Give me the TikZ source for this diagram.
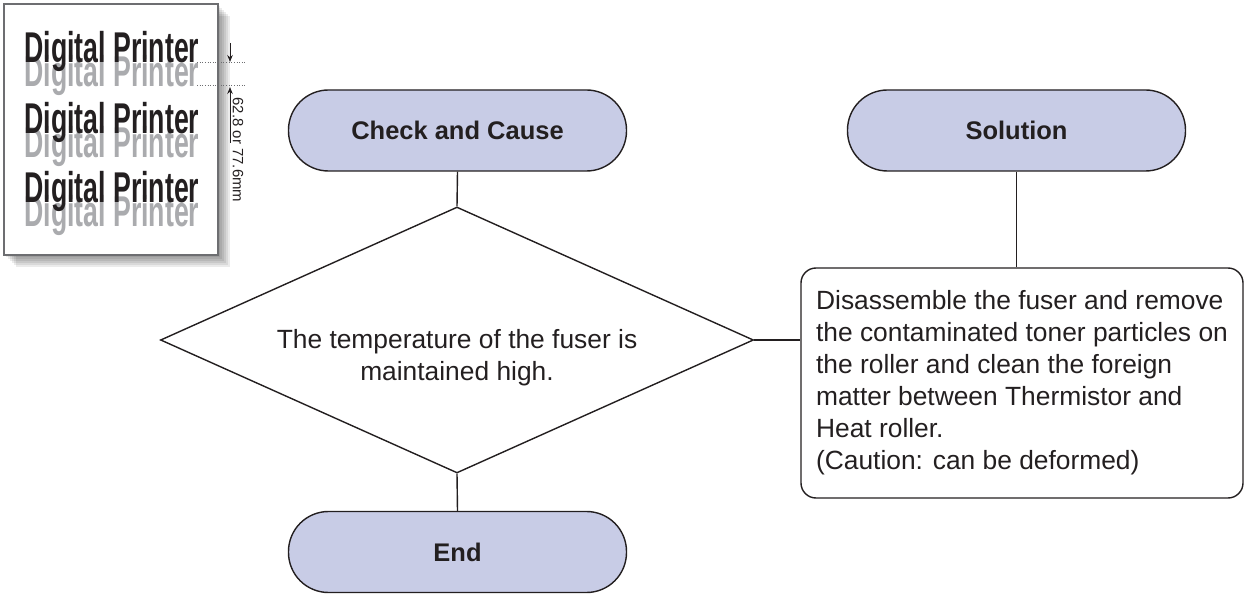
\documentclass[tikz,border=0pt]{standalone}
\usepackage{fontspec}
\setmainfont{Liberation Sans}
\newfontfamily\condfont[FakeStretch=0.62]{Liberation Sans Bold}
\usepackage{tikz}
\usetikzlibrary{arrows.meta,positioning,shapes.geometric,calc}
\definecolor{Ink}{HTML}{231F20}
\definecolor{Lilac}{HTML}{C8CCE6}
\definecolor{Ghost}{HTML}{AAABAE}
\definecolor{Edge}{HTML}{6D6E71}
\tikzset{
  every node/.append style={text=Ink},
  term/.style={draw=Ink, line width=0.8pt, rounded corners=8mm, fill=Lilac,
               minimum width=67.6mm, minimum height=16.2mm,
               font=\fontsize{14.5}{17}\selectfont\bfseries},
  decision/.style={diamond, draw=Ink, line width=0.8pt, inner sep=0pt,
                   minimum width=118.6mm, minimum height=53.2mm},
  note/.style={draw=Ink, line width=0.8pt, rounded corners=3mm, align=left,
               minimum width=88.4mm, minimum height=46mm,
               font=\fontsize{15}{18.2}\selectfont},
  body/.style={align=center, font=\fontsize{15}{18.2}\selectfont},
  link/.style={line width=0.8pt, draw=Ink},
  sample/.style={anchor=base west, inner sep=0pt, font=\condfont\fontsize{24.5}{24}\selectfont},
  dimarrow/.style={-{Stealth[length=1.4mm,width=1.1mm]}, line width=0.5pt, draw=Ink},
  guide/.style={densely dotted, line width=0.5pt, draw=Edge},
}

\begin{document}
\begin{tikzpicture}[x=0.2mm, y=-0.2mm]
  \useasboundingbox (0,0) rectangle (1248,603);

  % print sample sheet
  \foreach \d in {2,4,...,12}
    \fill[black, opacity=0.08] (4+\d,4+\d) rectangle (218+\d,255+\d);
  \draw[fill=white, draw=Edge, line width=0.6pt] (4,4) rectangle (218,255);
  \foreach \row/\y in {a/63, b/134, c/203} {
    \node[sample, text=Ghost] (ghost\row) at (24,\y+24) {Digital Printer};
    \node[sample] (print\row) at (24,\y) {Digital Printer};
  }

  % spacing mark
  \coordinate (dimtop) at (230,43);
  \coordinate (markA) at (230,62);
  \coordinate (markB) at (230,87);
  \coordinate (dimbot) at (230,143);
  \coordinate (guideA) at (197,62);
  \coordinate (guideB) at (197,85);
  \draw[guide] (guideA) -- ++(48,0);
  \draw[guide] (guideB) -- ++(48,0);
  \draw[dimarrow] (dimtop) -- (markA);
  \draw[dimarrow] (dimbot) -- (markB);
  \node[rotate=-90, inner sep=0pt, font=\fontsize{8.5}{10}\selectfont] (pitch) at (238,150) {62.8 or 77.6mm};

  % flow
  \node[term] (check) at (457.5,130.5) {Check and Cause};
  \node[term] (sol) at (1016.5,130.5) {Solution};
  \node[decision] (temp) at (457,340) {};
  \node[body] (temptext) at ($(temp.center)+(0,18)$) {The temperature of the fuser is\\maintained high.};
  \node[term] (end) at (457.5,552) {End};
  \node[note] (fix) at (1022,383) {Disassemble the fuser and remove\\the contaminated toner particles on\\the roller and clean the foreign\\matter between Thermistor and\\Heat roller.\\(Caution: can be deformed)};

  \draw[link] (check.south) -- (temp.north);
  \draw[link] (temp.south) -- (end.north);
  \draw[link] (temp.east) -- (temp.east -| fix.west);
  \draw[link] (sol.south) -- (sol.south |- fix.north);
\end{tikzpicture}
\end{document}
